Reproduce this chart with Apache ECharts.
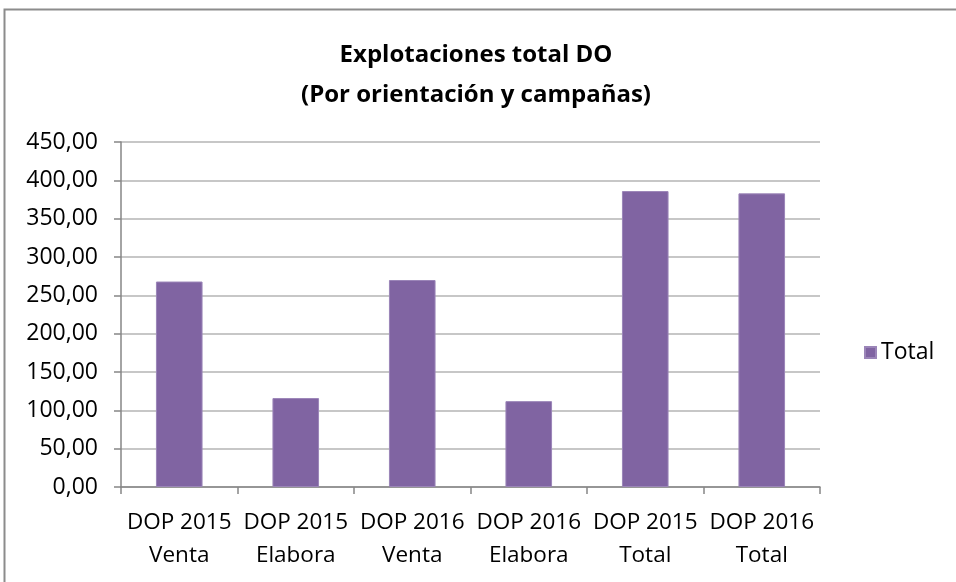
<!DOCTYPE html>
<html>
<head>
<meta charset="utf-8">
<script src="https://cdn.jsdelivr.net/npm/echarts@6/dist/echarts.min.js"></script>
<style>
html,body{margin:0;padding:0;background:#fff;}
#chart{width:956px;height:582px;}
</style>
</head>
<body>
<div id="chart"></div>
<script>
var categories = ['DOP 2015\nVenta', 'DOP 2015\nElabora', 'DOP 2016\nVenta', 'DOP 2016\nElabora', 'DOP 2015\nTotal', 'DOP 2016\nTotal'];
var totalValues = [268, 116, 270, 112, 386, 383];
var seriesName = 'Total';
var titleText = 'Explotaciones total DO\n(Por orientación y campañas)';

var FONT = '"Open Sans", "Noto Sans", sans-serif';
var chart = echarts.init(document.getElementById('chart'), null, {renderer: 'canvas'});
chart.setOption({
  animation: false,
  backgroundColor: '#ffffff',
  title: {
    text: titleText,
    left: 471,
    top: 30,
    textAlign: 'center',
    textStyle: {fontFamily: FONT, fontSize: 24, fontWeight: 'bold', color: '#000', lineHeight: 40}
  },
  legend: {
    data: [seriesName],
    left: 859,
    top: 336,
    itemWidth: 11,
    itemHeight: 11,
    itemGap: 6,
    icon: 'rect',
    textStyle: {fontFamily: FONT, fontSize: 23, color: '#000'}
  },
  grid: {left: 121, right: 136, top: 142, bottom: 95, containLabel: false},
  xAxis: {
    type: 'category',
    data: categories,
    axisLine: {lineStyle: {color: '#868686', width: 1.5}},
    axisTick: {show: true, length: 7, lineStyle: {color: '#868686', width: 1.5}},
    axisLabel: {fontFamily: FONT, fontSize: 22.5, color: '#000', lineHeight: 33, margin: 19, interval: 0}
  },
  yAxis: {
    type: 'value',
    min: 0,
    max: 450,
    interval: 50,
    axisLine: {show: true, lineStyle: {color: '#868686', width: 1.5}},
    axisTick: {show: true, length: 7, lineStyle: {color: '#868686', width: 1.5}},
    splitLine: {lineStyle: {color: '#b4b4b4', width: 1.5}},
    axisLabel: {
      fontFamily: FONT, fontSize: 23, color: '#000', margin: 23,
      formatter: function (v) { return v.toFixed(2).replace('.', ','); }
    }
  },
  series: [{
    name: seriesName,
    type: 'bar',
    data: totalValues,
    barWidth: '40%',
    itemStyle: {color: '#8064A2', borderColor: '#9b85b8', borderWidth: 1}
  }],
  graphic: [{
    type: 'polyline',
    shape: {points: [[4.5, 582], [4.5, 9.5], [956, 9.5]]},
    style: {stroke: '#8c8c8c', lineWidth: 2, fill: null},
    silent: true
  }]
});
</script>
</body>
</html>
